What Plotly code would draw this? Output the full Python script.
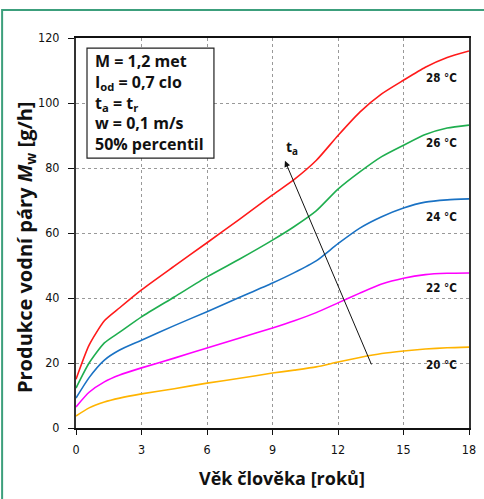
import plotly.graph_objects as go

age = [0, 0.6, 1.3, 2, 3, 4.5, 6, 7.5, 9, 10, 11, 12, 13, 14, 15, 16, 17, 18]
mw_28 = [15, 25.5, 33, 37, 42.5, 49.8, 57, 64.3, 71.7, 76.5, 82.3, 90, 97.2, 102.8, 107, 111, 114, 116]
mw_26 = [12.3, 20, 26.2, 29.5, 34.2, 40.3, 46.5, 52, 57.8, 62, 66.8, 73.5, 78.8, 83.5, 87, 90.3, 92.3, 93.2]
mw_24 = [9.2, 15.5, 20.9, 24, 27, 31.5, 35.8, 40.2, 44.6, 47.8, 51.4, 56.7, 61.5, 65, 67.7, 69.5, 70.2, 70.5]
mw_22 = [6.5, 11, 14.2, 16.3, 18.5, 21.5, 24.6, 27.7, 30.8, 33, 35.5, 38.5, 41.5, 44.3, 46.1, 47.2, 47.6, 47.7]
mw_20 = [3.7, 6.2, 8, 9.2, 10.5, 12.1, 13.8, 15.3, 16.9, 17.8, 18.8, 20.3, 21.7, 22.9, 23.7, 24.3, 24.7, 24.9]

series = [
    ("28 °C", mw_28, "#ff1a1a", 107.8),
    ("26 °C", mw_26, "#1fae4f", 87.8),
    ("24 °C", mw_24, "#1a72c4", 64.9),
    ("22 °C", mw_22, "#ff00ff", 43.1),
    ("20 °C", mw_20, "#ffb400", 19.4),
]
label_x = 16.75

box_lines = ["M = 1,2 met", "I<sub>od</sub> = 0,7 clo", "t<sub>a</sub> = t<sub>r</sub>",
             "w = 0,1 m/s", "50% percentil"]

x_title = "Věk člověka [roků]"
y_title = "Produkce vodní páry <i>M</i><sub>w</sub> [g/h]"

x_ticks = [0, 3, 6, 9, 12, 15, 18]
y_ticks = [0, 20, 40, 60, 80, 100, 120]

COND = "DejaVu Sans Condensed"

fig = go.Figure()
for name, vals, col, ly in series:
    fig.add_trace(go.Scatter(x=age, y=vals, mode="lines", name=name,
                             line=dict(color=col, width=1.6, shape="spline", smoothing=0.6),
                             showlegend=False))
    fig.add_annotation(x=label_x, y=ly, text="<b>" + name + "</b>", showarrow=False,
                       font=dict(family=COND, size=11.5, color="#111"))

# arrow of increasing t_a
fig.add_annotation(x=9.57, y=82.2, ax=13.56, ay=19.1, axref="x", ayref="y",
                   xref="x", yref="y", text="", showarrow=True,
                   arrowhead=2, arrowsize=1.2, arrowwidth=1, arrowcolor="#111")
fig.add_annotation(x=9.9, y=86.2, text="<b>t<sub>a</sub></b>", showarrow=False,
                   font=dict(family="Open Sans", size=14, color="#111"))

# parameter box
fig.add_shape(type="rect", xref="paper", yref="paper", x0=0.028, x1=0.351, y0=0.692, y1=0.974,
              line=dict(color="#222", width=1.2), fillcolor="white", layer="above")
fig.add_annotation(xref="paper", yref="paper", x=0.0433, y=0.834, xanchor="left", yanchor="middle",
                   text="<b>" + "<br>".join(box_lines) + "</b>", showarrow=False, align="left",
                   font=dict(family="Open Sans", size=16, color="#111"))

# axis titles
fig.add_annotation(xref="paper", yref="paper", x=0.523, y=-0.128, xanchor="center", yanchor="middle",
                   text="<b>" + x_title + "</b>", showarrow=False,
                   font=dict(family="Open Sans", size=18, color="#111"))
fig.add_annotation(xref="paper", yref="paper", x=-0.1298, y=0.464, xanchor="center", yanchor="middle",
                   text="<b>" + y_title + "</b>", showarrow=False, textangle=-90,
                   font=dict(family="Open Sans", size=20, color="#111"))

# green outer frame
fig.add_shape(type="rect", xref="paper", yref="paper", x0=-0.188, x1=1.08, y0=-0.25, y1=1.072,
              line=dict(color="#3c9f7c", width=2), layer="below")

fig.update_xaxes(range=[0, 18], tickvals=x_ticks, ticks="outside", ticklen=5,
                 tickcolor="#111", showline=True, linecolor="#111", linewidth=2, mirror=True,
                 showgrid=True, gridcolor="#999", griddash="dot", gridwidth=1, zeroline=False,
                 ticklabelstandoff=4,
                 tickfont=dict(family=COND, size=12.5, color="#111"))
fig.update_yaxes(range=[0, 120], tickvals=y_ticks, ticks="outside", ticklen=6,
                 tickcolor="#111", showline=True, linecolor="#333", linewidth=2, mirror=True,
                 showgrid=True, gridcolor="#999", griddash="dot", gridwidth=1, zeroline=False,
                 ticklabelstandoff=6,
                 tickfont=dict(family=COND, size=12.5, color="#111"))

fig.update_layout(width=484, height=499, margin=dict(l=76, r=15, t=38, b=71, autoexpand=False),
                  paper_bgcolor="white", plot_bgcolor="white")

fig.write_html("out.html", config={"displayModeBar": False},
               post_script="document.body.style.margin='0';")
